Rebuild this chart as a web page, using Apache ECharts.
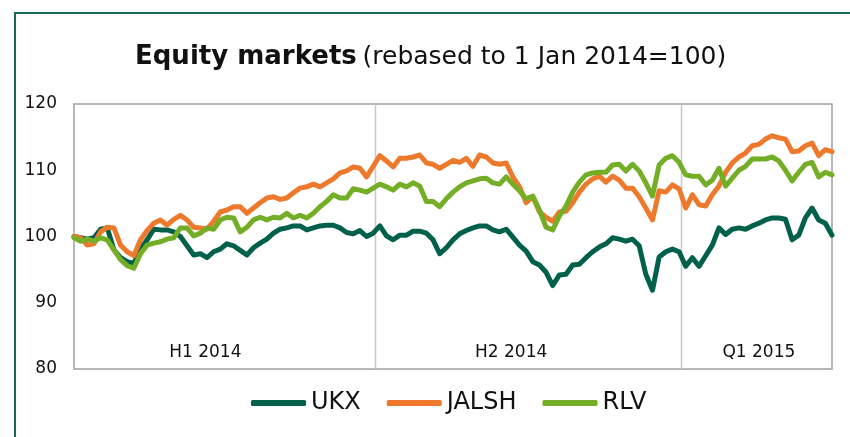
<!DOCTYPE html>
<html lang="en">
<head>
    <meta charset="UTF-8">
    <title>Equity markets</title>
    <script type="text/javascript" src="https://cdn.jsdelivr.net/npm/echarts@6/dist/echarts.min.js"></script>
    <style>
        html, body { margin: 0; padding: 0; background: #fff; }
        #main { width: 850px; height: 437px; }
    </style>
</head>
<body>
<div id="main"></div>
<script>
    // sample dates as days since 1 Jan 2014, every 4 days
    var days = [];
    for (var i = 0; i < 115; i++) {
        days.push(4 * i);
    }

    var ukx = [100.0, 99.8, 99.6, 99.8, 101.1, 101.3, 98.0, 96.8, 96.2, 95.9,
        98.1, 99.5, 101.1, 101.0, 101.0, 100.7, 100.0, 98.6, 97.2, 97.4,
        96.8, 97.7, 98.1, 98.9, 98.6, 97.9, 97.2, 98.3, 99.0, 99.6,
        100.5, 101.1, 101.3, 101.6, 101.6, 101.0, 101.3, 101.6, 101.7, 101.7,
        101.3, 100.6, 100.4, 100.9, 100.0, 100.5, 101.6, 100.1, 99.5, 100.2,
        100.2, 100.8, 100.8, 100.5, 99.5, 97.4, 98.3, 99.5, 100.4, 100.9,
        101.3, 101.6, 101.6, 101.0, 100.7, 101.1, 99.9, 98.7, 97.8, 96.2,
        95.7, 94.6, 92.6, 94.2, 94.3, 95.7, 95.8, 96.8, 97.7, 98.4,
        98.9, 99.8, 99.6, 99.3, 99.6, 98.6, 94.3, 91.9, 96.9, 97.7,
        98.1, 97.7, 95.5, 96.8, 95.5, 97.1, 98.7, 101.3, 100.3, 101.1,
        101.3, 101.1, 101.6, 102.0, 102.5, 102.8, 102.8, 102.6, 99.5, 100.2,
        102.8, 104.3, 102.5, 102.0, 100.2];

    var jalsh = [100.0, 99.8, 98.7, 98.9, 100.7, 101.4, 101.3, 98.7, 97.7, 97.1,
        99.5, 100.9, 102.0, 102.5, 101.7, 102.6, 103.2, 102.5, 101.4, 101.3,
        101.1, 102.3, 103.7, 104.0, 104.5, 104.5, 103.5, 104.3, 105.1, 105.8,
        106.0, 105.6, 105.8, 106.6, 107.3, 107.5, 107.9, 107.5, 108.1, 108.7,
        109.6, 109.9, 110.5, 110.3, 109.0, 110.6, 112.2, 111.4, 110.5, 111.8,
        111.8, 112.0, 112.3, 111.1, 110.9, 110.3, 110.9, 111.5, 111.2, 111.8,
        110.6, 112.3, 112.0, 111.1, 110.9, 111.1, 109.0, 107.5, 105.1, 106.0,
        103.7, 102.9, 102.3, 103.7, 103.8, 105.1, 106.7, 107.9, 108.7, 109.1,
        108.2, 109.1, 108.5, 107.3, 107.3, 106.0, 104.3, 102.5, 106.9, 106.7,
        107.8, 107.2, 104.3, 106.3, 104.8, 104.6, 106.3, 107.6, 109.7, 111.1,
        112.0, 112.6, 113.7, 113.9, 114.7, 115.2, 114.9, 114.7, 112.8, 112.9,
        113.7, 114.1, 112.2, 113.1, 112.8];

    var rlv = [99.8, 99.3, 99.6, 99.3, 99.8, 99.5, 98.0, 96.5, 95.6, 95.2,
        97.4, 98.7, 99.0, 99.2, 99.6, 99.8, 101.3, 101.3, 100.1, 100.5,
        101.3, 101.1, 102.5, 102.9, 102.8, 100.7, 101.4, 102.5, 102.9, 102.5,
        102.9, 102.8, 103.5, 102.8, 103.2, 102.8, 103.5, 104.5, 105.3, 106.3,
        105.8, 105.8, 107.2, 107.0, 106.7, 107.3, 107.9, 107.5, 107.0, 107.9,
        107.5, 108.1, 107.6, 105.3, 105.3, 104.5, 105.7, 106.7, 107.5, 108.1,
        108.4, 108.7, 108.8, 108.1, 107.9, 109.0, 107.9, 106.9, 105.7, 106.1,
        104.0, 101.4, 101.0, 103.1, 104.6, 106.7, 108.2, 109.3, 109.6, 109.7,
        109.7, 110.8, 110.9, 109.9, 110.9, 109.9, 108.1, 106.1, 110.8, 111.8,
        112.2, 111.2, 109.3, 109.1, 109.1, 107.8, 108.5, 110.3, 107.6, 108.8,
        110.0, 110.6, 111.7, 111.7, 111.7, 112.0, 111.4, 110.0, 108.4, 109.7,
        110.9, 111.2, 109.0, 109.7, 109.3];

    var periodLabels = ['H1 2014', 'H2 2014', 'Q1 2015'];
    var periodMids = [79, 263, 412];     // day offsets of label centres
    var periodBreaks = [181, 365];       // 1 Jul 2014, 1 Jan 2015

    function pairs(vals) {
        return vals.map(function (v, k) { return [days[k], v]; });
    }

    var font = 'DejaVu Sans';
    var chart = echarts.init(document.getElementById('main'));
    var option = {
        animation: false,
        textStyle: { fontFamily: font },
        title: {
            left: 130,
            top: 39,
            text: '{b|Equity markets} {n|(rebased to 1 Jan 2014=100)}',
            textStyle: {
                fontWeight: 'normal',
                rich: {
                    b: { fontFamily: font, fontSize: 26, fontWeight: 'bold', color: '#111' },
                    n: { fontFamily: font, fontSize: 25, fontWeight: 'normal', color: '#111' }
                }
            }
        },
        graphic: [{
            id: 'frame',
            type: 'rect',
            shape: { x: 15, y: 13, width: 1000, height: 1000 },
            style: { fill: 'none', stroke: '#176b59', lineWidth: 2 },
            silent: true
        }],
        legend: {
            top: 386,
            left: 246,
            itemWidth: 55,
            itemHeight: 6,
            itemGap: 26,
            icon: 'roundRect',
            textStyle: { fontFamily: font, fontSize: 24, color: '#111' },
            data: ['UKX', 'JALSH', 'RLV']
        },
        grid: {
            left: 74, right: 18, top: 104, bottom: 68,
            show: true,
            borderColor: '#a0a0a0',
            borderWidth: 1.5
        },
        xAxis: {
            type: 'value',
            min: 0,
            max: days[days.length - 1],
            axisLine: { show: false },
            axisTick: { show: false },
            splitLine: { show: false },
            axisLabel: {
                inside: true,
                margin: 8,
                fontSize: 17,
                color: '#111',
                customValues: periodMids,
                formatter: function (val) {
                    var k = periodMids.indexOf(val);
                    return k >= 0 ? periodLabels[k] : '';
                }
            }
        },
        yAxis: {
            type: 'value',
            min: 80, max: 120, interval: 10,
            axisLine: { show: false },
            axisTick: { show: false },
            splitLine: { show: false },
            axisLabel: { fontSize: 17, color: '#111', margin: 17 }
        },
        series: [
            {
                name: 'UKX', type: 'line', data: pairs(ukx), showSymbol: false,
                color: '#00604a', lineStyle: { width: 5, cap: 'round', join: 'round' }, z: 3
            },
            {
                name: 'JALSH', type: 'line', data: pairs(jalsh), showSymbol: false,
                color: '#ed7a2c', lineStyle: { width: 5, cap: 'round', join: 'round' }, z: 4
            },
            {
                name: 'RLV', type: 'line', data: pairs(rlv), showSymbol: false,
                color: '#74ae27', lineStyle: { width: 5, cap: 'round', join: 'round' }, z: 5
            }
        ]
    };
    chart.setOption(option);

    // period separators, placed through the chart's own x scale
    var yTop = chart.convertToPixel({ yAxisIndex: 0 }, 120);
    var yBot = chart.convertToPixel({ yAxisIndex: 0 }, 80);
    var seps = periodBreaks.map(function (d, k) {
        var x = Math.round(chart.convertToPixel({ xAxisIndex: 0 }, d)) + 0.5;
        return {
            id: 'sep' + k,
            type: 'line',
            z: 1,
            silent: true,
            shape: { x1: x, y1: yTop, x2: x, y2: yBot },
            style: { stroke: '#c8c8c8', lineWidth: 1.5 }
        };
    });
    chart.setOption({ graphic: seps });
</script>
</body>
</html>
